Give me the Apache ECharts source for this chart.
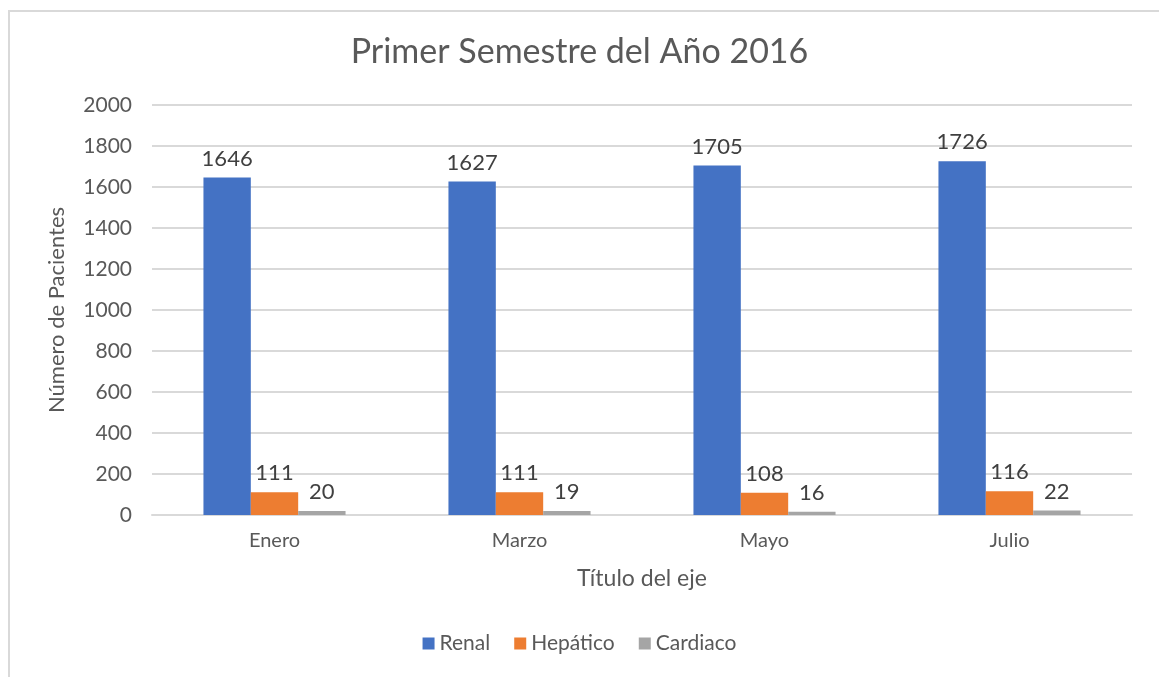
<!DOCTYPE html>
<html>
<head>
<meta charset="utf-8">
<script src="https://cdn.jsdelivr.net/npm/echarts@6/dist/echarts.min.js"></script>
<style>
  html, body { margin: 0; padding: 0; background: #fff; }
  #chart { width: 1159px; height: 677px; }
</style>
</head>
<body>
<div id="chart"></div>
<script>
var meses = ["Enero", "Marzo", "Mayo", "Julio"];
var renal = [1646, 1627, 1705, 1726];
var hepatico = [111, 111, 108, 116];
var cardiaco = [20, 19, 16, 22];

var fuente = "Lato, 'DejaVu Sans', sans-serif";

function serie(nombre, datos, color) {
  return {
    name: nombre,
    type: "bar",
    data: datos,
    barGap: "0%",
    barCategoryGap: "42%",
    itemStyle: { color: color },
    label: {
      show: true,
      position: "top",
      distance: 8,
      color: "#404040",
      fontSize: 22,
      fontFamily: fuente
    }
  };
}

var chart = echarts.init(document.getElementById("chart"));
chart.setOption({
  backgroundColor: "#fff",
  animation: false,
  textStyle: { fontFamily: fuente },
  title: {
    text: "Primer Semestre del Año 2016",
    left: "center",
    top: 30,
    textStyle: { color: "#595959", fontSize: 34, fontWeight: "normal", fontFamily: fuente }
  },
  graphic: [{
    type: "rect",
    shape: { x: 9, y: 11, width: 1300, height: 800 },
    style: { fill: "none", stroke: "#d9d9d9", lineWidth: 2 },
    silent: true
  }],
  legend: {
    bottom: 18,
    left: "center",
    itemWidth: 12,
    itemHeight: 12,
    itemGap: 24,
    icon: "rect",
    textStyle: { color: "#595959", fontSize: 21, fontFamily: fuente },
    data: ["Renal", "Hepático", "Cardiaco"]
  },
  grid: { left: 152, right: 27, top: 105, bottom: 162 },
  xAxis: {
    type: "category",
    data: meses,
    name: "Título del eje",
    nameLocation: "middle",
    nameGap: 52,
    nameTextStyle: { color: "#595959", fontSize: 23, fontFamily: fuente },
    axisLine: { lineStyle: { color: "#d9d9d9", width: 2 } },
    axisTick: { show: false },
    axisLabel: { color: "#595959", fontSize: 20, margin: 16, fontFamily: fuente }
  },
  yAxis: {
    type: "value",
    min: 0,
    max: 2000,
    interval: 200,
    name: "Número de Pacientes",
    nameLocation: "middle",
    nameGap: 84,
    nameTextStyle: { color: "#595959", fontSize: 22, fontFamily: fuente },
    axisLine: { show: false },
    axisTick: { show: false },
    axisLabel: {
      color: "#595959",
      fontSize: 21,
      margin: 20,
      fontFamily: fuente,
      formatter: function (v) { return String(v); }
    },
    splitLine: { lineStyle: { color: "#d9d9d9", width: 2 } }
  },
  series: [
    serie("Renal", renal, "#4472c4"),
    serie("Hepático", hepatico, "#ed7d31"),
    serie("Cardiaco", cardiaco, "#a5a5a5")
  ]
});
</script>
</body>
</html>
